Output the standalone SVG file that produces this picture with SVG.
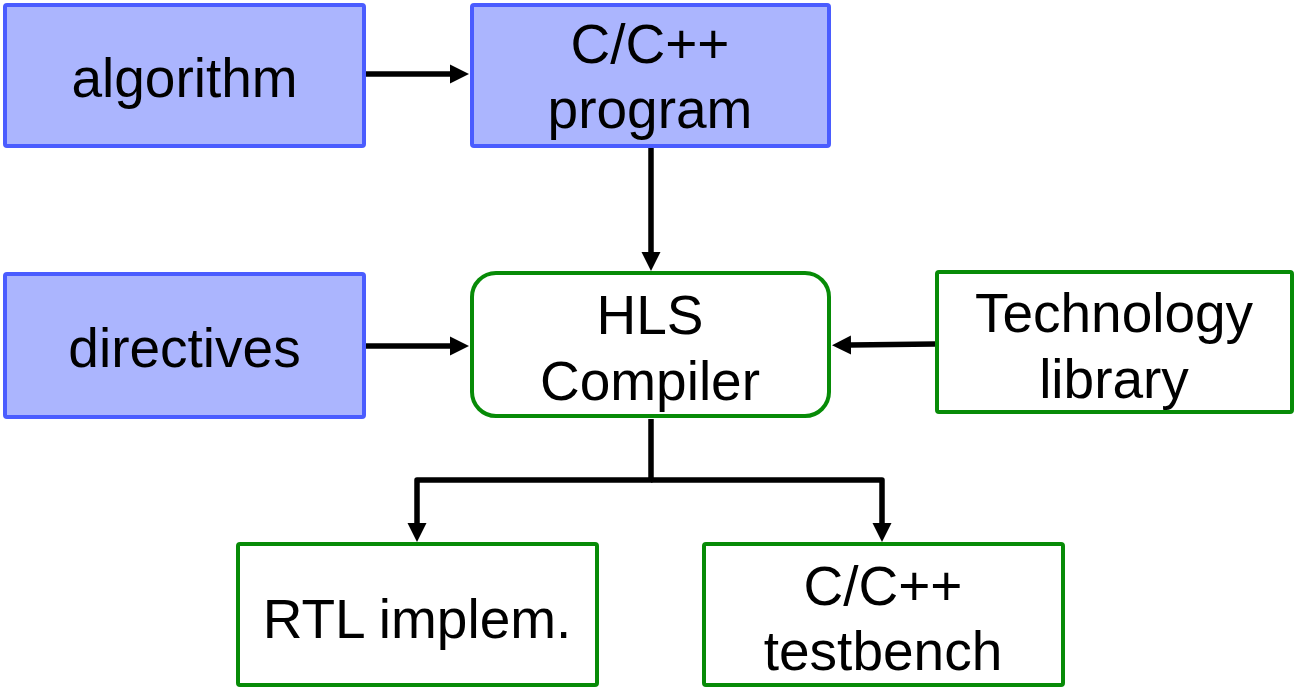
<svg xmlns="http://www.w3.org/2000/svg" width="1295" height="688" viewBox="0 0 1295 688">
  <style>
    .input rect { fill: #abb5fe; stroke: #4a5cff; stroke-width: 4; }
    .tool rect { fill: #ffffff; stroke: #078b07; stroke-width: 4; }
    text { font-family: "Liberation Sans", Arial, sans-serif; font-size: 55px; fill: #000; text-anchor: middle; }
    .wire { fill: none; stroke: #000; stroke-width: 5.5; stroke-linejoin: round; }
  </style>
  <defs>
    <marker id="arrow" markerUnits="userSpaceOnUse" markerWidth="20" markerHeight="20" refX="1" refY="10" orient="auto" viewBox="0 0 20 20">
      <path d="M0,0.5 L19,10 L0,19.5 z" fill="#000"/>
    </marker>
  </defs>

  <rect x="0" y="0" width="1295" height="688" fill="#ffffff"/>

  <g id="algorithm" class="input">
    <rect x="5" y="5" width="359" height="141" rx="2"/>
    <text x="184.5" y="97">algorithm</text>
  </g>

  <g id="program" class="input">
    <rect x="472" y="5" width="357" height="141" rx="2"/>
    <text x="650" y="63">C/C++</text>
    <text x="650" y="128">program</text>
  </g>

  <g id="directives" class="input">
    <rect x="5" y="274" width="359" height="143" rx="2"/>
    <text x="184.5" y="367">directives</text>
  </g>

  <g id="hls-compiler" class="tool">
    <rect x="472" y="273" width="357" height="143" rx="24"/>
    <text x="650" y="334">HLS</text>
    <text x="650" y="400">Compiler</text>
  </g>

  <g id="technology-library" class="tool">
    <rect x="937" y="272" width="355" height="140" rx="2"/>
    <text x="1114" y="332">Technology</text>
    <text x="1114" y="398">library</text>
  </g>

  <g id="rtl" class="tool">
    <rect x="238" y="544" width="359" height="141" rx="2"/>
    <text x="417" y="638">RTL implem.</text>
  </g>

  <g id="testbench" class="tool">
    <rect x="704" y="544" width="359" height="141" rx="2"/>
    <text x="883" y="605">C/C++</text>
    <text x="883" y="670">testbench</text>
  </g>

  <g id="connectors">
    <line class="wire" x1="366" y1="74" x2="451" y2="74" marker-end="url(#arrow)"/>
    <line class="wire" x1="651" y1="148" x2="651" y2="253" marker-end="url(#arrow)"/>
    <line class="wire" x1="366" y1="346" x2="451" y2="346" marker-end="url(#arrow)"/>
    <line class="wire" x1="935" y1="344" x2="850" y2="345" marker-end="url(#arrow)"/>
    <path class="wire" d="M651,419 V480 H417 V524" marker-end="url(#arrow)"/>
    <path class="wire" d="M651,480 H882 V524" marker-end="url(#arrow)"/>
  </g>
</svg>
